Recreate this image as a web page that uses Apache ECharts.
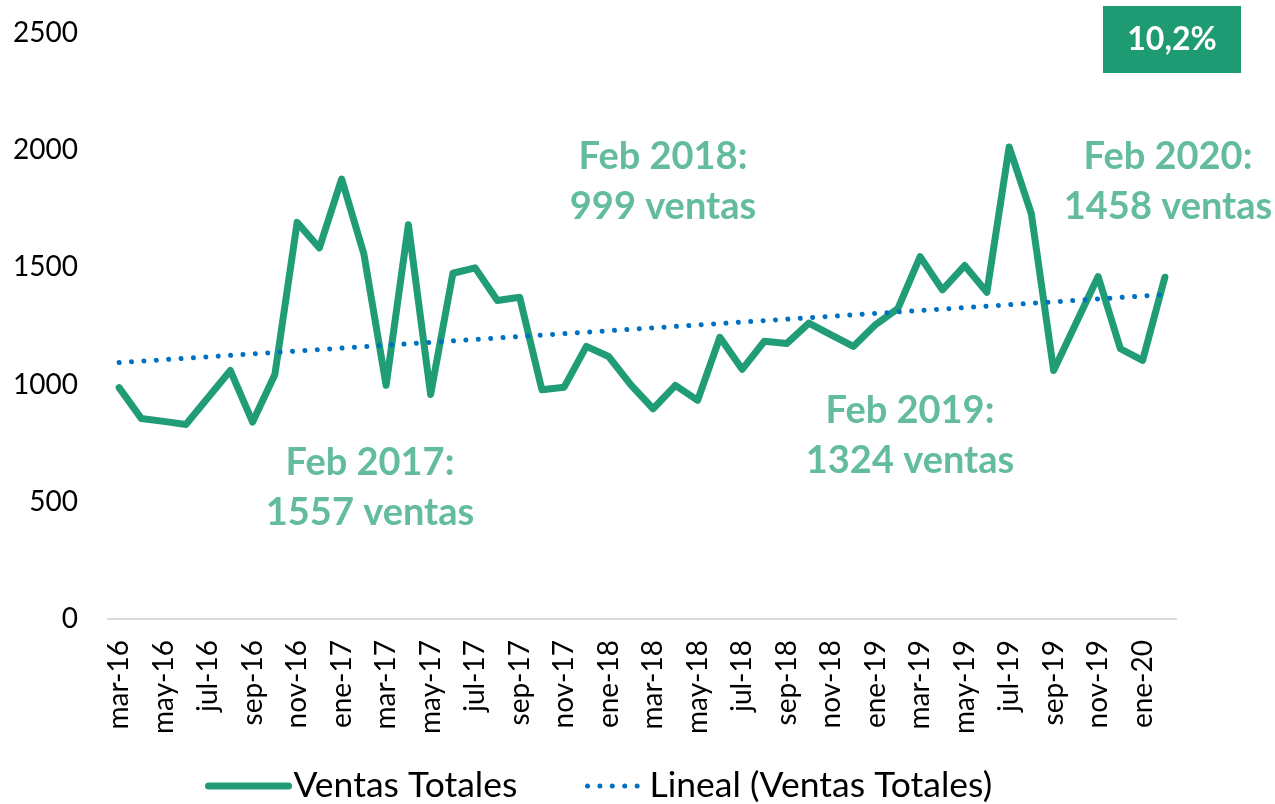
<!DOCTYPE html>
<html>
<head>
<meta charset="utf-8">
<script src="https://cdn.jsdelivr.net/npm/echarts@6/dist/echarts.min.js"></script>
<style>
  html, body { margin: 0; padding: 0; background: #fff; }
  #chart { width: 1275px; height: 804px; }
</style>
</head>
<body>
<div id="chart"></div>
<script>
// meses (mar-16 .. feb-20)
let months = [
  "mar-16", "abr-16", "may-16", "jun-16", "jul-16", "ago-16", "sep-16", "oct-16", "nov-16", "dic-16",
  "ene-17", "feb-17", "mar-17", "abr-17", "may-17", "jun-17", "jul-17", "ago-17", "sep-17", "oct-17", "nov-17", "dic-17",
  "ene-18", "feb-18", "mar-18", "abr-18", "may-18", "jun-18", "jul-18", "ago-18", "sep-18", "oct-18", "nov-18", "dic-18",
  "ene-19", "feb-19", "mar-19", "abr-19", "may-19", "jun-19", "jul-19", "ago-19", "sep-19", "oct-19", "nov-19", "dic-19",
  "ene-20", "feb-20"
];
let ventasTotales = [
  987, 855, 843, 830, 945, 1060, 840, 1043, 1692, 1583,
  1877, 1557, 997, 1682, 958, 1475, 1498, 1359, 1373, 978, 989, 1163,
  1120, 999, 897, 997, 933, 1202, 1065, 1185, 1175, 1262, 1212, 1163,
  1256, 1324, 1546, 1404, 1508, 1394, 2014, 1728, 1060, 1261, 1461, 1153,
  1103, 1458
];
// tendencia lineal: valores al inicio y al final
let trendEnds = [1094, 1384];
let yTicks = [0, 500, 1000, 1500, 2000, 2500];

let trendData = months.map(function (m, i) {
  if (i === 0) return trendEnds[0];
  if (i === months.length - 1) return trendEnds[1];
  return null;
});

let chartDom = document.getElementById("chart");
let myChart = echarts.init(chartDom);
let font = "Lato";
let green = "#209C76";
let blue = "#0070C0";
let noteColor = "#63BC9C";
let dots = [0.01, 12.4];

function note(x, y, text) {
  return {
    type: "text",
    x: x,
    y: y,
    style: {
      text: text,
      fill: noteColor,
      font: "bold 38px Lato",
      lineHeight: 50,
      textAlign: "center",
      textVerticalAlign: "middle",
    },
  };
}

let option;
option = {
  animation: false,
  grid: {
    left: 108,
    right: 99,
    top: 33,
    bottom: 185,
  },
  legend: [
    {
      data: ["Ventas Totales"],
      left: 200,
      top: 763,
      itemWidth: 80,
      itemHeight: 14,
      itemStyle: { opacity: 0 },
      lineStyle: { color: green, width: 7, cap: "round" },
      textStyle: { fontFamily: font, fontSize: 35.5, color: "#000" },
    },
    {
      data: ["Lineal (Ventas Totales)"],
      left: 580,
      top: 763,
      itemWidth: 57,
      itemHeight: 14,
      itemStyle: { opacity: 0 },
      lineStyle: { color: blue, width: 5, type: dots, cap: "round" },
      textStyle: { fontFamily: font, fontSize: 35.5, color: "#000" },
    },
  ],
  xAxis: {
    type: "category",
    data: months,
    boundaryGap: true,
    axisLine: { lineStyle: { color: "#D9D9D9", width: 2 } },
    axisTick: { show: false },
    axisLabel: {
      interval: 1,
      rotate: 90,
      margin: 21,
      fontFamily: font,
      fontSize: 28,
      color: "#000",
    },
  },
  yAxis: {
    type: "value",
    min: yTicks[0],
    max: yTicks[yTicks.length - 1],
    interval: 500,
    splitLine: { show: false },
    axisLine: { show: false },
    axisTick: { show: false },
    axisLabel: {
      margin: 30,
      fontFamily: font,
      fontSize: 28,
      color: "#000",
      formatter: function (v) {
        return String(v);
      },
    },
  },
  series: [
    {
      name: "Ventas Totales",
      type: "line",
      data: ventasTotales,
      symbol: "none",
      lineStyle: { color: green, width: 7, join: "round", cap: "round" },
      itemStyle: { color: green },
      z: 2,
    },
    {
      name: "Lineal (Ventas Totales)",
      type: "line",
      data: trendData,
      connectNulls: true,
      symbol: "none",
      lineStyle: { color: blue, width: 5, type: dots, cap: "round" },
      itemStyle: { color: blue },
      z: 3,
    },
  ],
  graphic: [
    {
      type: "rect",
      shape: { x: 1103, y: 6, width: 138, height: 67 },
      style: { fill: "#1F9B74" },
    },
    {
      type: "text",
      x: 1172,
      y: 40,
      style: {
        text: "10,2%",
        fill: "#fff",
        font: "bold 32px Lato",
        textAlign: "center",
        textVerticalAlign: "middle",
      },
    },
    note(370, 488, "Feb 2017:\n1557 ventas"),
    note(663, 182, "Feb 2018:\n999 ventas"),
    note(910, 436, "Feb 2019:\n1324 ventas"),
    note(1168, 182, "Feb 2020:\n1458 ventas"),
  ],
};
option && myChart.setOption(option);
</script>
</body>
</html>
